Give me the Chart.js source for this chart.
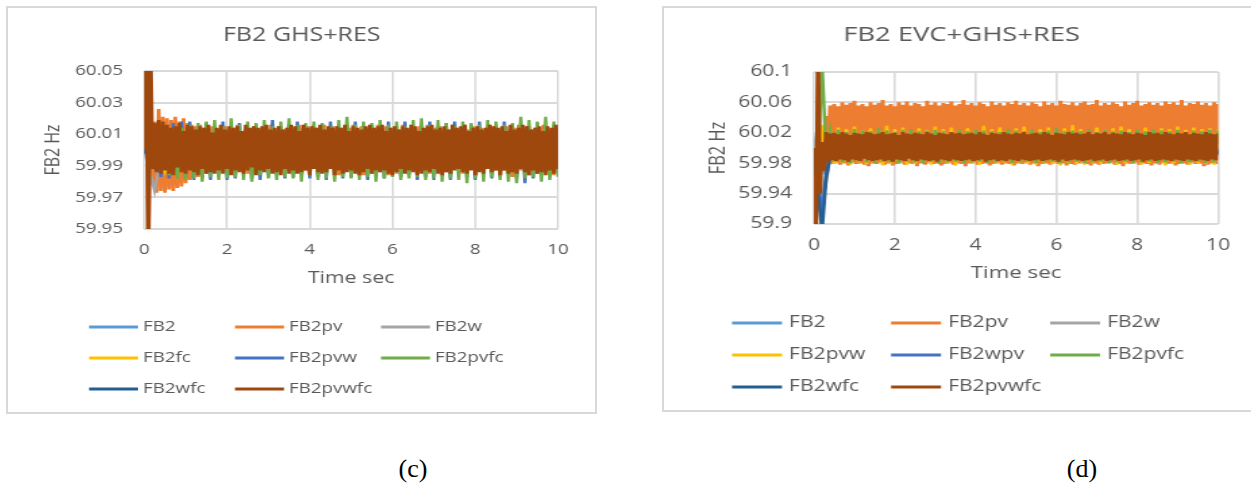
<!DOCTYPE html>
<html>
<head>
<meta charset="utf-8">
<script src="https://cdn.jsdelivr.net/npm/chart.js@4.4.1/dist/chart.umd.min.js"></script>
<style>
  body { margin: 0; width: 1251px; height: 495px; overflow: hidden; position: relative; background: #fff; }
  .box { position: absolute; border: 2px solid #d9d9d9; box-sizing: border-box; }
  #boxC { left: 6px; top: 6px; width: 591px; height: 408px; }
  #boxD { left: 662px; top: 6px; width: 610px; height: 406px; }
  /* the source figure is stretched sideways, so the canvases are too */
  .plot { position: absolute; top: 8px; transform-origin: 0 0; }
  #plotC { left: 8px; transform: scaleX(1.25); }
  #plotD { left: 664px; transform: scaleX(1.35); }
  .tag { position: absolute; top: 454px; font: 26px "Liberation Serif", serif; color: #000; transform: translateX(-50%); }
</style>
</head>
<body>
<div class="box" id="boxC"></div>
<div class="box" id="boxD"></div>
<div class="plot" id="plotC"><canvas id="chartC" width="470" height="404"></canvas></div>
<div class="plot" id="plotD"><canvas id="chartD" width="441" height="402"></canvas></div>
<div class="tag" style="left:413px">(c)</div>
<div class="tag" style="left:1082px">(d)</div>

<script>
// frequencies are stored as deviation from 60 Hz, in mHz
const nominalHz = 60;
const stepFine = 0.05;   // s between samples
const stepMid = 0.1;
const stepCoarse = 0.25;

const xTicks = [0, 2, 4, 6, 8, 10];
const yTicksC = [59.95, 59.97, 59.99, 60.01, 60.03, 60.05];
const yTicksD = [59.9, 59.94, 59.98, 60.02, 60.06, 60.1];

const colors = ['#5B9BD5', '#ED7D31', '#A5A5A5', '#FFC000', '#4472C4', '#70AD47', '#255E91', '#9E480E'];

// ---- (c) FB2 GHS+RES ----
const namesC = ['FB2', 'FB2pv', 'FB2w', 'FB2fc', 'FB2pvw', 'FB2pvfc', 'FB2wfc', 'FB2pvwfc'];

const fb2C = [0, 7, -9, 8, -7, 9, -8, 6, -9, 8, -7, 9, -6, 8, -9, 7, -8, 9, -7, 6, -8, 9, -7, 8, -6, 9, -8, 7, -9, 6, -7, 8, -9, 7, -6, 8, -9, 7, -8, 6, -7];

const pvC = [0, 50, -60, 30, -22, 18, -27, 26, -26, 21,
  -27, 20, -25, 19, -26, 21, -24, 18, -23, 20,
  -21, 17, -19, 16, -18, 15, -17, 16, -16, 14,
  -15,
  14, -13, 15, -12, 13, -16, 12, -14, 15, -13,
  12, -15, 14, -12, 16, -13, 11, -14, 13, -15,
  12, -13, 15, -14, 12, -16, 13, -12, 14, -15,
  16, -13, 12, -14, 15, -12, 13, -16, 14, -13,
  12, -15, 13, -14, 16, -12, 14, -13, 15, -16,
  13, -12, 14, -15, 12, -13, 16, -14, 13, -12,
  15, -13, 12, -16, 14, -15, 13, -12, 14, -13,
  16, -14, 12, -13, 15, -16, 13, -12, 14, -15,
  12, -13, 16, -14, 13, -12, 15, -16, 14, -13,
  12, -15, 13, -14, 16, -13, 12, -15, 14, -12,
  13, -16, 15, -13, 12, -14, 16, -15, 13, -12,
  14, -13, 15, -16, 12, -14, 13, -15, 16, -12,
  14, -13, 12, -15, 16, -14, 13, -12, 15, -16,
  12, -13, 14, -15, 13, -12, 16, -14, 15, -13,
  12, -16, 14, -13, 15, -12, 13, -17, 14, -15,
  16, -13, 12, -14, 15, -16, 13, -12, 14, -15,
  12, -13, 16, -14, 13, -15, 12, -16, 14, -13];

const wC = [0, -26, 9, -8, 7, -9, 8, -6, 9, -7, 8, -9, 6, -8, 7, -9, 8, -7, 9, -6, 8, -9, 7, -8, 6, -9, 8, -7, 9, -6, 7, -8, 9, -7, 6, -8, 9, -7, 8, -6, 7];

const fcC = [0, 10, -13, 9, -8, 7, -9, 8, -7, 9, -8, 6, -9, 7, -8, 9, -6, 8, -7, 9, -8, 7, -9, 6, -8, 9, -7, 8, -6, 9, -7, 8, -9, 6, -8, 7, -9, 8, -6, 9, -8];

const pvwC = [0, 70, -12, 14, -17, 15, -18, 17, -16, 18,
  -17, 18, -19, 15, -18, 17, -19, 14, -17, 18,
  -19, 16, -18, 17, -16, 15, -18, 16, -19, 15,
  -17, 19, -16, 15, -18, 16, -17, 18, -16, 15,
  -18, 16, -17, 15, -19, 18, -16, 15, -18, 16,
  -17, 18, -16, 15, -19, 16, -17, 15, -18, 18,
  -16, 15, -17, 18, -16, 15, -19, 16, -17, 18,
  -19, 15, -16, 17, -19, 18, -16, 15, -17, 16,
  -19, 18, -16, 15, -18, 16, -17, 18, -16, 15,
  -18, 16, -21, 15, -18, 17, -16, 15, -17, 16,
  -15];

const pvfcC = [0, 80, -10, 8, -14, 12, -16, 13, -18, 14,
  -19, 16, -18, 17, -20, 18, -17, 19, -19, 15,
  -18, 20, -17, 16, -19, 18, -20, 17, -16, 19,
  -18, 15, -19, 18, -17, 20, -18, 16, -20, 17,
  -16, 18, -19, 17, -18, 15, -20, 19, -17, 21,
  -18, 16, -19, 18, -17, 17, -20, 19, -18, 16,
  -17, 18, -19, 15, -18, 19, -17, 20, -19, 16,
  -18, 19, -20, 17, -18, 15, -19, 18, -21, 17,
  -18, 16, -20, 19, -17, 18, -19, 16, -20, 17,
  -21, 21, -18, 19, -17, 18, -20, 21, -19, 18,
  -17];

const wfcC = [0, -11, 8, -9, 7, -8, 9, -7, 6, -9, 8, -7, 9, -6, 8, -9, 7, -8, 6, -9, 7, -8, 9, -6, 8, -7, 9, -8, 6, -9, 7, -6, 8, -9, 7, -8, 9, -6, 7, -8, 9];

const pvwfcC = [0, 80, -80, 70,
  -12, 17, -14, 19, -15, 18, -13, 16, -15, 14,
  -16, 15, -11, 17, -14, 12, -15, 16, -13, 15,
  -14, 13, -16, 15, -12, 14, -15, 16, -14, 11,
  -15, 14, -13, 16, -15, 13, -12, 15, -16, 14,
  -13, 15, -14, 12, -15, 16, -13, 14, -11, 15,
  -16, 14, -13, 15, -14, 16, -12, 13, -15, 14,
  -14, 15, -16, 13, -12, 14, -15, 16, -13, 15,
  -15, 12, -14, 16, -13, 14, -16, 15, -12, 14,
  -14, 16, -15, 13, -14, 15, -12, 14, -16, 15,
  -13, 14, -15, 16, -14, 12, -13, 15, -15, 14,
  -16, 13, -14, 15, -12, 16, -15, 14, -13, 15,
  -14, 16, -13, 12, -15, 14, -16, 15, -14, 13,
  -12, 15, -15, 14, -13, 16, -14, 15, -16, 12,
  -15, 14, -13, 15, -14, 16, -12, 13, -15, 14,
  -16, 15, -14, 13, -15, 16, -13, 14, -12, 15,
  -14, 16, -15, 12, -13, 14, -16, 15, -14, 13,
  -15, 14, -12, 16, -14, 15, -13, 14, -16, 15,
  -13, 12, -15, 16, -14, 13, -15, 14, -12, 16,
  -14, 15, -16, 13, -13, 14, -15, 15, -14, 12,
  -16, 15, -13, 14, -15, 16, -12];

// ---- (d) FB2 EVC+GHS+RES ----
const namesD = ['FB2', 'FB2pv', 'FB2w', 'FB2pvw', 'FB2wpv', 'FB2pvfc', 'FB2wfc', 'FB2pvwfc'];

const fb2D = [0, -30, 8, -10, 9, -7, 10, -8, 9, -10, 7, -9, 8, -10, 9, -7, 10, -8, 9, -9, 7, -10, 8, -9, 10, -7, 9, -8, 10, -9, 7, -8, 9, -10, 8, -7, 10, -9, 8, -10, 9];

const pvD = [0, -100, 100, -30, 20, -25, 42, -20,
  56, -21, 58, -19, 55, -22, 60, -20, 57, -23,
  59, -19, 62, -21, 56, -20, 58, -22, 55, -24,
  60, -20, 57, -21, 59, -19, 63, -22, 56, -20,
  58, -23, 55, -21, 60, -19, 57, -22, 61, -20,
  56, -21, 59, -24, 58, -20, 55, -22, 62, -19,
  57, -21, 60, -20, 56, -23, 59, -21, 58, -19,
  61, -22, 56, -20, 58, -21, 63, -24, 57, -20,
  59, -19, 56, -22, 60, -21, 58, -20, 55, -23,
  61, -21, 57, -19, 59, -22, 56, -20, 60, -21,
  58, -23, 62, -20, 57, -21, 59, -19, 56, -22,
  60, -20, 58, -24, 55, -21, 61, -20, 57, -22,
  59, -19, 56, -21, 62, -20, 58, -23, 57, -21,
  60, -22, 56, -20, 59, -19, 61, -21, 57, -23,
  58, -20, 63, -22, 56, -21, 59, -20, 57, -19,
  60, -22, 58, -21, 55, -24, 61, -20, 57, -21,
  59, -19, 62, -22, 56, -20, 58, -21, 60, -23,
  57, -20, 59, -22, 56, -19, 61, -21, 58, -20,
  60, -23, 57, -21, 63, -20, 56, -22, 59, -19,
  58, -21, 61, -20, 57, -24, 59, -22, 56, -20,
  60, -21, 58];

const wD = [0, 30, -70, -45, -10, 8, -9, 7, -8, 9,
  -7, 8, -9, 6, -8, 9, -7, 8, -6, 9,
  -8, 7, -9, 8, -6, 7, -9, 8, -7, 9,
  -8, 6, -9, 7, -8, 9, -6, 8, -7, 9,
  -8, 7, -9, 6, -8, 9, -7, 8, -9, 6,
  -7, 8, -9, 7, -6, 8, -9, 7, -8, 9,
  -6, 8, -7, 9, -8, 6, -9, 7, -8, 9,
  -7, 8, -6, 9, -8, 7, -9, 6, -8, 9,
  -7, 8, -9, 7, -6, 8, -9, 7, -8, 9,
  -6, 8, -7, 9, -8, 6, -9, 7, -8, 9,
  -7];

const pvwD = [0, -40, 30, -12,
  24, -21, 27, -20, 25, -22, 28, -19, 23, -21,
  26, -20, 24, -23, 29, -21, 25, -20, 27, -22,
  23, -21, 26, -19, 24, -22, 28, -20, 25, -21,
  27, -23, 24, -20, 26, -21, 23, -22, 29, -20,
  25, -21, 27, -19, 24, -22, 26, -20, 28, -21,
  23, -22, 25, -20, 27, -21, 24, -23, 26, -20,
  30, -21, 25, -22, 23, -20, 27, -21, 24, -19,
  26, -22, 28, -20, 25, -21, 23, -22, 27, -20,
  24, -21, 26, -23, 25, -20, 28, -21, 24, -22,
  27, -20, 25, -21, 26, -22, 24];

const wpvD = [0, -40, -90, -30, -8, 9, -7, 8, -9, 7,
  -8, 9, -6, 8, -9, 7, -8, 6, -9, 8,
  -7, 9, -8, 6, -9, 7, -8, 9, -7, 8,
  -6, 9, -8, 7, -9, 6, -8, 9, -7, 8,
  -9, 7, -6, 8, -9, 7, -8, 9, -6, 8,
  -7, 9, -8, 6, -9, 8, -7, 9, -8, 7,
  -9, 6, -8, 9, -7, 8, -9, 7, -6, 8,
  -8, 9, -7, 6, -9, 8, -7, 9, -8, 7,
  -6, 9, -8, 7, -9, 8, -6, 9, -7, 8,
  -9, 7, -8, 6, -9, 8, -7, 9, -8, 7,
  -8];

const pvfcD = [0, -20, 110, -5,
  22, -18, 24, -19, 21, -20, 25, -18, 23, -19,
  22, -20, 26, -18, 23, -19, 21, -20, 24, -18,
  25, -19, 22, -20, 23, -18, 24, -21, 22, -19,
  21, -18, 25, -20, 22, -19, 24, -18, 23, -20,
  22, -19, 21, -18, 25, -20, 23, -19, 22, -18,
  24, -20, 21, -19, 23, -18, 26, -20, 22, -19,
  23, -18, 22, -20, 25, -19, 21, -18, 24, -20,
  22, -19, 23, -18, 21, -20, 24, -19, 22, -18,
  25, -20, 23, -19, 22, -18, 24, -20, 21, -19,
  23, -18, 22, -20, 24, -19, 23];

const wfcD = [0, -60, -110, -40, -12, 8, -9, 7, -8, 9,
  -6, 8, -9, 7, -8, 9, -7, 6, -8, 9,
  -9, 7, -8, 9, -6, 8, -7, 9, -8, 6,
  -9, 8, -7, 9, -8, 7, -6, 9, -8, 7,
  -7, 9, -8, 6, -9, 8, -7, 9, -6, 8,
  -8, 7, -9, 8, -6, 9, -8, 7, -9, 6,
  -8, 9, -7, 8, -9, 6, -8, 7, -9, 8,
  -6, 9, -8, 7, -9, 8, -7, 6, -9, 8,
  -7, 9, -8, 6, -9, 7, -8, 9, -6, 8,
  -9, 7, -8, 9, -7, 6, -8, 9, -7, 8,
  -9];

const pvwfcD = [0, -120, 120, -60, 8, -30, 21, -19,
  19, -16, 20, -17, 18, -15, 21, -16, 19, -18,
  17, -15, 20, -16, 19, -17, 18, -14, 21, -16,
  20, -17, 18, -16, 19, -15, 21, -17, 18, -16,
  19, -18, 20, -15, 17, -16, 21, -17, 19, -14,
  18, -16, 20, -17, 19, -15, 18, -16, 21, -17,
  19, -16, 17, -18, 20, -15, 19, -16, 18, -17,
  21, -15, 19, -16, 20, -17, 18, -16, 19, -15,
  20, -17, 18, -16, 21, -15, 19, -18, 17, -16,
  20, -15, 19, -17, 18, -16, 21, -17, 19, -15,
  18, -16, 20, -17, 19, -15, 21, -16, 18, -17,
  19, -16, 20, -15, 18, -17, 21, -16, 19, -15,
  17, -16, 20, -18, 19, -15, 18, -17, 21, -16,
  19, -15, 20, -16, 18, -17, 19, -16, 21, -15,
  18, -17, 20, -16, 19, -15, 21, -17, 18, -16,
  20, -15, 19, -17, 18, -16, 21, -15, 19, -17,
  18, -16, 20, -15, 19, -18, 17, -16, 21, -15,
  19, -17, 20, -16, 18, -15, 21, -16, 19, -17,
  18, -15, 20, -16, 19, -17, 21, -15, 18, -16,
  20, -17, 19, -15, 18, -16, 21, -17, 19, -15,
  18, -16, 19];

const toPoints = (values, step) => values.map((v, i) => ({ x: i * step, y: nominalHz + v / 1000 }));

function makeDatasets(names, values, steps) {
  return names.map((name, i) => ({
    label: name,
    data: toPoints(values[i], steps[i]),
    borderColor: colors[i],
    backgroundColor: colors[i],
    borderWidth: steps[i] === stepFine ? 3 : 2.5,
    pointRadius: 0,
    tension: 0,
    order: names.length - i // last series is painted on top, like Excel
  }));
}

// title + 3-column legend, placed like the Excel original
const excelDecor = {
  id: 'excelDecor',
  afterDraw(chart, args, opts) {
    const ctx = chart.ctx;
    ctx.save();
    ctx.fillStyle = '#595959';
    ctx.textBaseline = 'middle';
    ctx.textAlign = 'center';
    ctx.font = `${opts.titleSize}px "Open Sans"`;
    ctx.fillText(opts.title, chart.width / 2, opts.titleY);

    ctx.textAlign = 'left';
    ctx.font = `${opts.fontSize}px "Open Sans"`;
    ctx.lineWidth = 3;
    chart.data.datasets.forEach((ds, i) => {
      const x = opts.left + (i % 3) * opts.colStep;
      const y = opts.rows[Math.floor(i / 3)];
      ctx.strokeStyle = ds.borderColor;
      ctx.beginPath();
      ctx.moveTo(x, y);
      ctx.lineTo(x + opts.lineLen, y);
      ctx.stroke();
      ctx.fillText(ds.label, x + opts.textGap, y);
    });
    ctx.restore();
  }
};

function makeChart(id, cfg) {
  return new Chart(document.getElementById(id), {
    type: 'line',
    data: { datasets: makeDatasets(cfg.names, cfg.values, cfg.steps) },
    plugins: [excelDecor],
    options: {
      responsive: false,
      animation: false,
      events: [],
      layout: { padding: { left: 0, top: cfg.plotTop, right: cfg.padRight, bottom: cfg.padBottom } },
      scales: {
        x: {
          type: 'linear',
          min: 0,
          max: 10,
          afterBuildTicks: axis => { axis.ticks = xTicks.map(v => ({ value: v })); },
          afterFit: axis => { axis.height = cfg.xAxisHeight; },
          grid: { color: '#d9d9d9', lineWidth: 1.6, drawTicks: false },
          border: { display: false },
          ticks: { color: '#595959', padding: cfg.xTickPad, font: { family: 'Open Sans', size: cfg.tickSize } },
          title: { display: true, text: 'Time sec', color: '#595959', padding: { top: 4, bottom: 4 }, font: { family: 'Open Sans', size: cfg.axisTitleSize } }
        },
        y: {
          min: cfg.yTicks[0],
          max: cfg.yTicks[cfg.yTicks.length - 1],
          afterBuildTicks: axis => { axis.ticks = cfg.yTicks.map(v => ({ value: v })); },
          afterFit: axis => { axis.width = cfg.yAxisWidth; },
          grid: { color: '#d9d9d9', lineWidth: 2, drawTicks: false },
          border: { display: false },
          ticks: { color: '#595959', padding: cfg.yTickPad, callback: v => String(v), font: { family: 'Open Sans', size: cfg.tickSize } },
          title: { display: true, text: 'FB2 Hz', color: '#595959', padding: { top: cfg.yTitlePad, bottom: 4 }, font: { family: 'Open Sans', size: cfg.yTitleSize } }
        }
      },
      plugins: {
        legend: { display: false },
        tooltip: { enabled: false },
        excelDecor: cfg.decor
      }
    }
  });
}

makeChart('chartC', {
  names: namesC,
  values: [fb2C, pvC, wC, fcC, pvwC, pvfcC, wfcC, pvwfcC],
  steps: [stepCoarse, stepFine, stepCoarse, stepCoarse, stepMid, stepMid, stepCoarse, stepFine],
  yTicks: yTicksC,
  plotTop: 63, padRight: 30, padBottom: 119.8,
  xAxisHeight: 63.2, yAxisWidth: 109,
  xTickPad: 12, yTickPad: 17, yTitlePad: 27.3,
  tickSize: 15, axisTitleSize: 17, yTitleSize: 16,
  decor: { title: 'FB2 GHS+RES', titleSize: 20, titleY: 27, fontSize: 15,
           left: 64.8, colStep: 116.8, lineLen: 39.2, textGap: 43.2, rows: [319, 350, 381] }
});

makeChart('chartD', {
  names: namesD,
  values: [fb2D, pvD, wD, pvwD, wpvD, pvfcD, wfcD, pvwfcD],
  steps: [stepCoarse, stepFine, stepMid, stepMid, stepMid, stepMid, stepMid, stepFine],
  yTicks: yTicksD,
  plotTop: 64, padRight: 30.6, padBottom: 123.1,
  xAxisHeight: 62.9, yAxisWidth: 111.1,
  xTickPad: 12.6, yTickPad: 16.3, yTitlePad: 30.2,
  tickSize: 15.6, axisTitleSize: 16.5, yTitleSize: 16.4,
  decor: { title: 'FB2 EVC+GHS+RES', titleSize: 20.3, titleY: 27, fontSize: 15.6,
           left: 50.4, colStep: 117.8, lineLen: 37, textGap: 42.2, rows: [315, 347, 379] }
});
</script>
</body>
</html>
